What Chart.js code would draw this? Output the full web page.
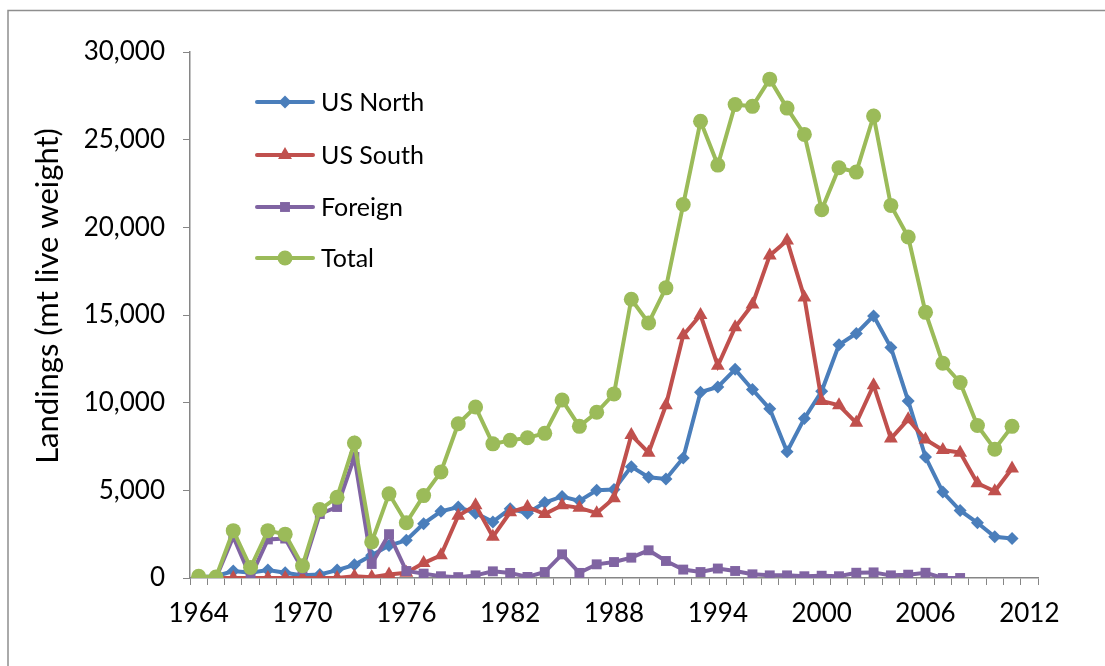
<!DOCTYPE html>
<html>
<head>
<meta charset="utf-8">
<script src="https://cdn.jsdelivr.net/npm/chart.js@4/dist/chart.umd.min.js"></script>
<style>
    body { margin: 0; background: #fff; }
    canvas { display: block; }
</style>
</head>
<body>
<canvas id="landings_chart" width="1105" height="666"></canvas>
<script>
// ------------------ Data ------------------
const years = ["1964", "1965", "1966", "1967", "1968", "1969", "1970", "1971", "1972", "1973",
    "1974", "1975", "1976", "1977", "1978", "1979", "1980", "1981", "1982", "1983",
    "1984", "1985", "1986", "1987", "1988", "1989", "1990", "1991", "1992", "1993",
    "1994", "1995", "1996", "1997", "1998", "1999", "2000", "2001", "2002", "2003",
    "2004", "2005", "2006", "2007", "2008", "2009", "2010", "2011", "2012"];

const us_north = [50, 100, 400, 300, 450, 300, 150, 200, 450, 750,
    1300, 1850, 2150, 3100, 3800, 4050, 3700, 3200, 3950, 3700,
    4300, 4650, 4400, 5000, 5050, 6350, 5750, 5650, 6850, 10600,
    10900, 11900, 10750, 9650, 7200, 9100, 10650, 13300, 13950, 14950,
    13150, 10100, 6900, 4900, 3850, 3150, 2350, 2250];

const us_south = [0, 0, 0, 0, 0, 0, 0, 0, 0, 100,
    50, 200, 300, 850, 1300, 3550, 4150, 2350, 3750, 4050,
    3650, 4150, 4000, 3700, 4550, 8150, 7150, 9850, 13850, 15000,
    12100, 14300, 15600, 18400, 19250, 16000, 10100, 9850, 8850, 11000,
    7950, 9050, 7900, 7300, 7150, 5400, 4950, 6250];

const foreign = [0, 0, 2350, 50, 2200, 2250, 500, 3650, 4050, 6900,
    800, 2500, 400, 250, 100, 50, 150, 380, 290, 60,
    340, 1350, 290, 780, 910, 1160, 1580, 970, 480, 340,
    540, 400, 210, 150, 150, 100, 130, 100, 300, 320,
    150, 190, 300, 0, 0];

const total = [100, 50, 2700, 600, 2700, 2500, 700, 3900, 4600, 7700,
    2050, 4800, 3150, 4700, 6050, 8800, 9750, 7650, 7850, 8000,
    8250, 10150, 8650, 9450, 10500, 15900, 14550, 16550, 21300, 26050,
    23550, 27000, 26900, 28450, 26800, 25300, 21000, 23400, 23150, 26350,
    21250, 19450, 15150, 12250, 11150, 8700, 7350, 8650];

const axis_color = "#868686";
const font_family = "Lato, 'Open Sans', sans-serif";

// ------------------ Small Helper For The Markers ------------------
function drawMarker(ctx, style, x, y, r, color) {
    ctx.fillStyle = color;
    ctx.beginPath();
    if (style === "circle") {
        ctx.arc(x, y, r, 0, Math.PI * 2);
    } else if (style === "triangle") {
        ctx.moveTo(x, y - r);
        ctx.lineTo(x + r * 0.866, y + r * 0.5);
        ctx.lineTo(x - r * 0.866, y + r * 0.5);
    } else if (style === "rect") {
        const s = r * Math.SQRT1_2;
        ctx.rect(x - s, y - s, s * 2, s * 2);
    } else {
        ctx.moveTo(x, y - r);
        ctx.lineTo(x + r, y);
        ctx.lineTo(x, y + r);
        ctx.lineTo(x - r, y);
    }
    ctx.closePath();
    ctx.fill();
}

// ------------------ Plugins: Frame, Axis Title, Legend ------------------
const framePlugin = {
    id: "frame",
    beforeDraw(chart) {
        const ctx = chart.ctx;
        ctx.save();
        ctx.fillStyle = "#fff";
        ctx.fillRect(0, 0, chart.width, chart.height);
        ctx.strokeStyle = "#8e8e8e";
        ctx.lineWidth = 1.5;
        ctx.strokeRect(8, 10.5, 1200, 700);
        ctx.restore();
    }
};

const titlePlugin = {
    id: "yTitle",
    afterDraw(chart) {
        const ctx = chart.ctx;
        ctx.save();
        ctx.translate(48, 296);
        ctx.rotate(-Math.PI / 2);
        ctx.fillStyle = "#000";
        ctx.font = "31px " + font_family;
        ctx.textAlign = "center";
        ctx.textBaseline = "middle";
        ctx.fillText("Landings (mt live weight)", 0, 0);
        ctx.restore();
    }
};

const legendPlugin = {
    id: "sideLegend",
    afterDraw(chart) {
        const ctx = chart.ctx;
        const rows = [102, 155, 207, 258];
        ctx.save();
        chart.data.datasets.forEach((ds, i) => {
            const y = rows[i];
            ctx.strokeStyle = ds.borderColor;
            ctx.lineWidth = 4;
            ctx.lineCap = "round";
            ctx.beginPath();
            ctx.moveTo(257, y);
            ctx.lineTo(313, y);
            ctx.stroke();
            drawMarker(ctx, ds.pointStyle, 285, y, ds.pointRadius, ds.borderColor);
            ctx.fillStyle = "#000";
            ctx.font = "25px " + font_family;
            ctx.textAlign = "left";
            ctx.textBaseline = "middle";
            ctx.fillText(ds.label, 321, y + 1);
        });
        ctx.restore();
    }
};

// ------------------ The Chart ------------------
const ctx = document.getElementById("landings_chart").getContext("2d");

const myChart = new Chart(ctx, {
    type: "line",
    data: {
        labels: years,
        datasets: [
            {
                label: "US North",
                data: us_north,
                borderColor: "#4A7EBB",
                backgroundColor: "#4A7EBB",
                pointStyle: "rectRot",
                pointRadius: 6.5,
                order: 4,
            },
            {
                label: "US South",
                data: us_south,
                borderColor: "#C0504D",
                backgroundColor: "#C0504D",
                pointStyle: "triangle",
                pointRadius: 8,
                order: 3,
            },
            {
                label: "Foreign",
                data: foreign,
                borderColor: "#8064A2",
                backgroundColor: "#8064A2",
                pointStyle: "rect",
                pointRadius: 7,
                order: 2,
            },
            {
                label: "Total",
                data: total,
                borderColor: "#9BBB59",
                backgroundColor: "#9BBB59",
                pointStyle: "circle",
                pointRadius: 7.5,
                order: 1,
            },
        ],
    },
    options: {
        responsive: false,
        animation: false,
        events: [],
        elements: {
            line: { borderWidth: 4, tension: 0 },
            point: { borderWidth: 0, hoverRadius: 0 },
        },
        layout: {
            padding: { left: 0, right: 67, top: 52, bottom: 0 },
        },
        plugins: {
            legend: { display: false },
            tooltip: { enabled: false },
        },
        scales: {
            x: {
                type: "category",
                offset: true,
                afterFit: (scale) => { scale.height = 88; },
                grid: {
                    display: true,
                    offset: true,
                    drawOnChartArea: false,
                    drawTicks: true,
                    tickLength: 7,
                    color: axis_color,
                },
                border: { display: true, color: axis_color, width: 1.5 },
                ticks: {
                    autoSkip: false,
                    maxRotation: 0,
                    padding: 13,
                    color: "#000",
                    font: { family: font_family, size: 26 },
                    callback: function (value, index) {
                        return index % 6 === 0 ? this.getLabelForValue(value) : "";
                    },
                },
            },
            y: {
                min: 0,
                max: 30000,
                afterFit: (scale) => { scale.width = 190; },
                grid: {
                    display: true,
                    drawOnChartArea: false,
                    drawTicks: true,
                    tickLength: 7,
                    color: axis_color,
                },
                border: { display: true, color: axis_color, width: 1.5 },
                ticks: {
                    stepSize: 5000,
                    padding: 18,
                    color: "#000",
                    font: { family: font_family, size: 26 },
                    callback: (value) => value.toLocaleString("en-US"),
                },
            },
        },
    },
    plugins: [framePlugin, titlePlugin, legendPlugin],
});
</script>
</body>
</html>
